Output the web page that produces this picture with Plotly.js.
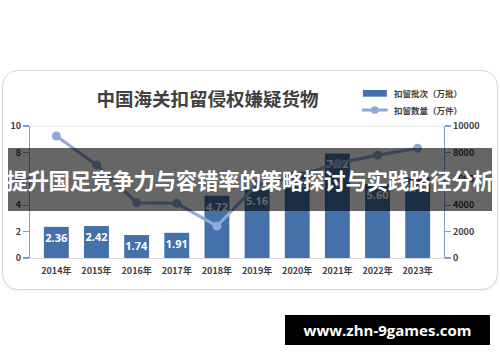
<!DOCTYPE html>
<html>
<head>
<meta charset="utf-8">
<script src="https://cdn.plot.ly/plotly-3.0.1.min.js"></script>
<style>
html,body{margin:0;padding:0;background:#fff;width:500px;height:362px;overflow:hidden;}
#card{position:absolute;left:2px;top:70px;width:494px;height:218px;border:1.5px solid #d9d9d9;border-radius:16px;background:#fff;box-shadow:0 1px 2px rgba(0,0,0,0.08);}
#chart{position:absolute;left:0;top:0;width:500px;height:362px;}
#banner{position:absolute;left:8px;top:148px;width:484px;height:63px;background:rgba(0,0,0,0.6);}
#bannerText{position:absolute;left:0;top:148px;width:500px;height:63px;line-height:63px;text-align:center;color:#fff;font-family:"Noto Sans CJK SC";font-weight:bold;font-size:21.5px;white-space:nowrap;letter-spacing:-0.3px;}
#wm{position:absolute;left:285px;top:315px;width:205px;height:30px;background:#000;color:#fff;font-family:"Open Sans","DejaVu Sans",sans-serif;font-weight:bold;font-size:15px;line-height:30px;text-align:center;}
</style>
</head>
<body>
<div id="card"></div>
<div id="chart"></div>
<div id="banner"></div>
<div id="bannerText">提升国足竞争力与容错率的策略探讨与实践路径分析</div>
<div id="wm">www.zhn-9games.com</div>
<script>
const years = ["2014年","2015年","2016年","2017年","2018年","2019年","2020年","2021年","2022年","2023年"];
const batches = [2.36, 2.42, 1.74, 1.91, 4.72, 5.16, 6.53, 7.92, 5.6, 6.1];
const quantity = [9240, 7050, 4190, 4140, 2420, 5560, 6200, 7180, 7790, 8320];
const leftTicks = [0, 2, 4, 6, 8, 10];
const rightTicks = [0, 2000, 4000, 6000, 8000, 10000];
const chartTitle = "中国海关扣留侵权嫌疑货物";
const barName = "扣留批次（万批）";
const lineName = "扣留数量（万件）";

const barColor = "#4471a9";
const lineColor = "#8eaad8";
const tickFont = {family: "Noto Sans CJK SC", size: 9, color: "#404040", weight: 700};
const legendFont = {family: "Noto Sans CJK SC", size: 8.5, color: "#404040", weight: 700};

const traces = [
  {
    type: "bar", x: years, y: batches, name: barName,
    marker: {color: barColor},
    width: 0.62,
    text: batches.map(v => v.toFixed(2)),
    textposition: "inside", insidetextanchor: "end", textangle: 0,
    constraintext: "none",
    textfont: {family: "Open Sans", size: 11, color: "#ffffff", weight: 700},
    cliponaxis: false,
    hoverinfo: "skip"
  },
  {
    type: "scatter", mode: "lines+markers", x: years, y: quantity, name: lineName,
    yaxis: "y2",
    line: {color: lineColor, width: 3},
    marker: {color: lineColor, size: 9},
    hoverinfo: "skip"
  }
];

const layout = {
  width: 500, height: 362,
  margin: {l: 30, r: 56, t: 126, b: 104, pad: 0},
  paper_bgcolor: "rgba(0,0,0,0)",
  plot_bgcolor: "rgba(0,0,0,0)",
  showlegend: false,
  title: {text: chartTitle, x: 0.415, xanchor: "center", y: 0.725, yanchor: "middle",
          font: {family: "Noto Sans CJK SC", size: 18.5, color: "#404040", weight: 700}},
  xaxis: {type: "category", showgrid: false, showline: true, linecolor: "#d9d9d9", linewidth: 1,
          ticks: "", tickfont: tickFont, fixedrange: true, ticklabelstandoff: 4},
  yaxis: {range: [0, 10], tickvals: leftTicks, showgrid: false, zeroline: false,
          showline: true, linecolor: "#7f9fd3", linewidth: 1.2,
          ticks: "outside", ticklen: 6, tickcolor: "#7f9fd3", tickwidth: 1.2,
          tickfont: tickFont, fixedrange: true},
  yaxis2: {range: [0, 10000], tickvals: rightTicks, ticktext: rightTicks.map(String),
           overlaying: "y", side: "right",
           showgrid: false, zeroline: false,
           showline: true, linecolor: "#7f9fd3", linewidth: 1.2,
           ticks: "outside", ticklen: 6, tickcolor: "#7f9fd3", tickwidth: 1.2,
           tickfont: tickFont, fixedrange: true},
  shapes: [
    {type: "line", xref: "paper", yref: "paper", x0: 0, x1: 1, y0: 1, y1: 1,
     line: {color: "#e3e3e3", width: 1}, layer: "below"},
    {type: "rect", xref: "paper", yref: "paper", x0: 0.804, x1: 0.862, y0: 1.222, y1: 1.273,
     fillcolor: barColor, line: {width: 0}},
    {type: "line", xref: "paper", yref: "paper", x0: 0.802, x1: 0.864, y0: 1.121, y1: 1.121,
     line: {color: lineColor, width: 3}},
    {type: "circle", xref: "paper", yref: "paper", x0: 0.8235, x1: 0.8425, y0: 1.0925, y1: 1.1495,
     fillcolor: lineColor, line: {width: 0}}
  ],
  annotations: [
    {xref: "paper", yref: "paper", x: 0.874, y: 1.248, xanchor: "left", yanchor: "middle",
     text: barName, showarrow: false, font: legendFont},
    {xref: "paper", yref: "paper", x: 0.874, y: 1.121, xanchor: "left", yanchor: "middle",
     text: lineName, showarrow: false, font: legendFont}
  ]
};

Plotly.newPlot("chart", traces, layout, {staticPlot: true, displayModeBar: false});
</script>
</body>
</html>
